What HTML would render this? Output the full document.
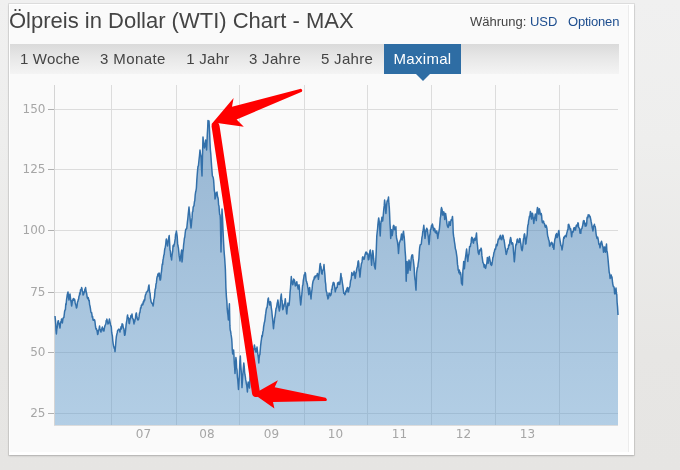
<!DOCTYPE html>
<html lang="de">
<head>
<meta charset="utf-8">
<title>Ölpreis in Dollar (WTI) Chart - MAX</title>
<style>
html,body{margin:0;padding:0;}
body{width:680px;height:470px;overflow:hidden;position:relative;background:linear-gradient(to bottom,#f0f0f0 0%,#eeeeed 30%,#e7e6e4 75%,#e6e5e3 100%);font-family:"Liberation Sans",sans-serif;}
.card{position:absolute;left:9px;top:4px;width:625px;height:451px;background:#fff;box-shadow:0 0 0 1px rgba(0,0,0,.07),0 1px 2px rgba(0,0,0,.18);}
.inner{position:absolute;left:1px;top:1px;width:619px;height:447px;background:#fafafa;border-right:1px solid #ececec;box-sizing:border-box;}
h1{position:absolute;left:9px;top:8px;margin:0;font-size:22px;line-height:25px;font-weight:normal;color:#444;white-space:nowrap;}
.opts{position:absolute;left:470px;top:14px;font-size:13px;line-height:15px;color:#444;white-space:nowrap;}
.opts a{color:#1e4e8f;text-decoration:none;}
.opts .o2{position:absolute;left:98px;top:0;letter-spacing:-0.2px;}
.tabs{position:absolute;left:10px;top:44px;width:609px;height:30px;background:linear-gradient(to bottom,#dadada 0%,#e6e6e6 40%,#f4f4f4 100%);}
.tabs span{position:absolute;top:0;height:30px;line-height:29px;font-size:15px;color:#444;white-space:nowrap;}
.tabs .act{left:374px;width:77px;background:#2e6da4;color:#fff;text-align:center;letter-spacing:0.3px;}
.tabs .act:after{content:"";position:absolute;left:31.5px;top:30px;border-left:7px solid transparent;border-right:7px solid transparent;border-top:7px solid #2e6da4;}
svg{position:absolute;left:0;top:0;}
svg text{font-family:"DejaVu Sans",sans-serif;font-size:12px;fill:#a6a6a6;}
</style>
</head>
<body>
<div class="card"><div class="inner"></div></div>
<h1>Ölpreis in Dollar (WTI) Chart - MAX</h1>
<div class="opts">Währung: <a>USD</a><a class="o2">Optionen</a></div>
<div class="tabs">
<span style="left:10px;letter-spacing:0.16px">1 Woche</span>
<span style="left:90px;letter-spacing:0.4px">3 Monate</span>
<span style="left:176.3px;letter-spacing:0.25px">1 Jahr</span>
<span style="left:239px;letter-spacing:0.3px">3 Jahre</span>
<span style="left:311px;letter-spacing:0.3px">5 Jahre</span>
<span class="act">Maximal</span>
</div>
<svg width="680" height="470" viewBox="0 0 680 470">
<defs>
<linearGradient id="fg" x1="0" y1="120" x2="0" y2="425" gradientUnits="userSpaceOnUse">
<stop offset="0" stop-color="#3572ab" stop-opacity="0.50"/>
<stop offset="1" stop-color="#5b98cb" stop-opacity="0.45"/>
</linearGradient>
</defs>
<g shape-rendering="crispEdges">
<rect x="54" y="85" width="1" height="340" fill="#d4d4d4"/>
<rect x="111" y="85" width="1" height="340" fill="#dcdcdc"/>
<rect x="176" y="85" width="1" height="340" fill="#dcdcdc"/>
<rect x="239" y="85" width="1" height="340" fill="#dcdcdc"/>
<rect x="304" y="85" width="1" height="340" fill="#dcdcdc"/>
<rect x="367" y="85" width="1" height="340" fill="#dcdcdc"/>
<rect x="431" y="85" width="1" height="340" fill="#dcdcdc"/>
<rect x="495" y="85" width="1" height="340" fill="#dcdcdc"/>
<rect x="559" y="85" width="1" height="340" fill="#dcdcdc"/>
<rect x="55" y="109" width="563" height="1" fill="#dcdcdc"/>
<rect x="48" y="109" width="6" height="1" fill="#b0b0b0"/>
<rect x="55" y="169" width="563" height="1" fill="#dcdcdc"/>
<rect x="48" y="169" width="6" height="1" fill="#b0b0b0"/>
<rect x="55" y="230" width="563" height="1" fill="#dcdcdc"/>
<rect x="48" y="230" width="6" height="1" fill="#b0b0b0"/>
<rect x="55" y="292" width="563" height="1" fill="#dcdcdc"/>
<rect x="48" y="292" width="6" height="1" fill="#b0b0b0"/>
<rect x="55" y="352" width="563" height="1" fill="#dcdcdc"/>
<rect x="48" y="352" width="6" height="1" fill="#b0b0b0"/>
<rect x="55" y="413" width="563" height="1" fill="#dcdcdc"/>
<rect x="48" y="413" width="6" height="1" fill="#b0b0b0"/>
<rect x="54" y="425" width="564" height="1" fill="#dcdcdc"/>
</g>
<path d="M55.0,316.0 L55.4,319.8 L55.7,323.7 L56.0,330.1 L56.4,334.0 L56.8,329.1 L57.2,327.6 L57.6,323.7 L58.0,321.0 L58.4,320.7 L58.8,323.8 L59.2,323.4 L59.6,326.3 L60.0,328.0 L60.4,324.1 L60.8,321.9 L61.2,321.0 L61.6,319.0 L62.0,322.2 L62.4,323.0 L62.8,319.7 L63.1,318.2 L63.5,317.9 L63.9,317.3 L64.3,314.0 L64.6,311.5 L65.0,310.0 L65.4,309.6 L65.8,303.8 L66.1,304.6 L66.5,300.2 L66.9,297.4 L67.2,295.0 L67.6,293.5 L68.0,292.0 L68.5,297.2 L69.0,300.0 L69.5,295.8 L70.0,294.0 L70.4,297.3 L70.8,300.5 L71.2,302.5 L71.6,306.0 L71.9,304.7 L72.3,301.3 L72.7,299.8 L73.0,300.0 L73.3,298.6 L73.7,300.2 L74.1,299.0 L74.4,299.0 L74.8,300.1 L75.2,302.9 L75.6,304.2 L76.0,305.4 L76.4,308.0 L76.8,307.4 L77.1,305.3 L77.5,301.9 L77.9,301.4 L78.3,299.5 L78.6,299.1 L79.0,296.0 L79.4,295.7 L79.7,292.8 L80.1,294.2 L80.5,289.7 L80.9,289.7 L81.2,289.8 L81.6,287.6 L81.9,288.1 L82.3,291.3 L82.7,291.4 L83.0,295.0 L83.4,294.6 L83.7,293.9 L84.1,292.1 L84.5,292.2 L84.9,289.0 L85.2,289.4 L85.6,287.6 L85.9,290.1 L86.3,292.1 L86.7,293.7 L87.0,296.0 L87.3,297.8 L87.7,298.7 L88.1,297.4 L88.4,298.0 L88.8,300.6 L89.2,300.3 L89.6,304.8 L90.0,306.0 L90.4,308.3 L90.8,311.4 L91.1,312.5 L91.5,312.2 L91.9,314.3 L92.2,317.1 L92.6,316.4 L93.0,320.0 L93.4,320.3 L93.8,319.5 L94.2,319.7 L94.6,319.9 L95.0,322.0 L95.5,326.5 L96.0,329.0 L96.4,328.6 L96.8,330.0 L97.2,331.6 L97.6,334.4 L98.0,334.0 L98.4,330.4 L98.8,329.8 L99.2,328.2 L99.6,326.0 L99.9,329.0 L100.3,330.2 L100.7,331.9 L101.0,332.0 L101.3,329.9 L101.7,329.2 L102.1,327.7 L102.4,327.0 L102.8,329.5 L103.2,330.7 L103.6,328.7 L104.0,331.0 L104.4,328.2 L104.7,326.8 L105.1,325.3 L105.5,324.7 L105.9,323.5 L106.2,320.7 L106.6,320.0 L106.9,319.1 L107.3,321.7 L107.7,322.5 L108.0,324.0 L108.3,323.0 L108.7,323.2 L109.1,321.0 L109.4,319.0 L109.8,320.8 L110.2,322.9 L110.6,324.9 L111.0,326.0 L111.3,326.8 L111.7,332.5 L112.1,334.6 L112.4,336.0 L112.8,340.8 L113.2,343.8 L113.6,346.0 L113.9,347.0 L114.3,348.4 L114.7,348.7 L115.0,351.6 L115.5,346.3 L116.0,340.0 L116.4,336.3 L116.8,334.4 L117.2,332.9 L117.6,330.7 L118.0,330.0 L118.4,329.8 L118.8,329.1 L119.2,329.3 L119.6,330.3 L120.0,332.0 L120.3,329.3 L120.7,329.2 L121.0,326.8 L121.4,328.9 L121.7,326.7 L122.1,323.8 L122.4,324.0 L122.8,324.6 L123.1,326.6 L123.5,328.2 L123.9,328.9 L124.3,333.2 L124.6,335.3 L125.0,335.0 L125.4,332.0 L125.7,329.2 L126.1,324.9 L126.5,322.1 L126.9,320.1 L127.2,317.0 L127.6,315.0 L127.9,318.2 L128.3,317.7 L128.7,319.2 L129.0,323.0 L129.4,323.6 L129.8,320.9 L130.1,318.3 L130.5,318.7 L130.9,315.6 L131.2,316.4 L131.6,316.9 L132.0,314.0 L132.4,317.4 L132.8,318.7 L133.2,319.1 L133.6,321.5 L134.0,324.0 L134.3,321.2 L134.7,321.9 L135.0,319.4 L135.4,318.8 L135.7,315.5 L136.1,313.5 L136.4,313.0 L136.8,315.9 L137.2,318.3 L137.6,319.6 L138.0,320.0 L138.4,319.7 L138.8,318.2 L139.1,316.4 L139.5,313.0 L139.9,312.6 L140.2,310.5 L140.6,307.7 L141.0,308.0 L141.4,305.2 L141.8,305.2 L142.1,304.1 L142.5,304.7 L142.9,304.7 L143.2,301.8 L143.6,302.7 L144.0,300.0 L144.4,300.9 L144.8,299.7 L145.1,296.5 L145.5,294.9 L145.9,294.0 L146.2,292.8 L146.6,291.9 L147.0,292.0 L147.4,291.1 L147.8,290.7 L148.2,289.1 L148.6,286.3 L149.0,285.0 L149.3,288.8 L149.7,292.6 L150.1,293.2 L150.4,298.0 L150.8,299.8 L151.1,301.8 L151.5,302.5 L151.9,303.5 L152.3,303.6 L152.6,303.6 L153.0,306.0 L153.4,304.3 L153.8,299.9 L154.1,298.9 L154.5,296.8 L154.9,291.9 L155.2,289.1 L155.6,288.4 L156.0,284.0 L156.4,282.9 L156.8,278.7 L157.2,276.6 L157.6,276.0 L157.9,273.9 L158.3,276.0 L158.7,274.9 L159.0,273.0 L159.3,273.4 L159.7,277.7 L160.1,280.1 L160.4,280.0 L160.8,277.7 L161.1,273.7 L161.5,271.6 L161.9,267.2 L162.3,263.9 L162.6,264.6 L163.0,260.0 L163.4,258.2 L163.8,255.3 L164.2,254.4 L164.6,250.1 L165.0,248.0 L165.3,247.2 L165.7,244.7 L166.1,240.2 L166.4,239.0 L166.8,240.4 L167.2,242.9 L167.6,246.0 L168.0,242.4 L168.4,241.1 L168.8,237.3 L169.2,235.6 L169.6,242.5 L170.0,250.0 L170.4,251.1 L170.8,256.6 L171.2,256.9 L171.6,260.0 L171.9,256.3 L172.3,253.3 L172.7,251.0 L173.0,246.0 L173.3,245.2 L173.7,246.6 L174.1,244.5 L174.4,244.0 L174.8,241.5 L175.2,238.9 L175.6,234.4 L176.0,233.4 L176.4,231.0 L176.8,233.5 L177.2,236.6 L177.6,243.4 L178.0,246.0 L178.4,247.8 L178.8,251.9 L179.2,255.9 L179.6,258.2 L180.0,261.0 L180.4,257.6 L180.8,255.6 L181.2,253.0 L181.6,250.0 L182.0,262.0 L182.4,259.1 L182.8,252.5 L183.2,250.2 L183.6,245.0 L184.0,242.0 L184.4,238.2 L184.8,237.0 L185.2,233.0 L185.6,230.0 L185.9,229.2 L186.3,229.0 L186.7,228.6 L187.0,226.0 L187.4,222.0 L187.8,218.8 L188.2,214.6 L188.6,210.8 L189.0,207.0 L189.4,211.9 L189.8,215.2 L190.2,219.7 L190.6,223.7 L191.0,228.0 L191.3,225.7 L191.7,220.8 L192.1,217.4 L192.4,212.0 L192.8,211.7 L193.2,207.1 L193.6,206.2 L194.0,205.7 L194.4,202.0 L194.8,200.5 L195.2,195.0 L195.6,192.2 L196.0,190.6 L196.4,188.0 L196.8,180.4 L197.2,175.0 L197.6,170.0 L198.0,166.4 L198.4,166.0 L199.0,160.0 L199.5,155.6 L200.0,150.0 L200.5,154.1 L201.0,156.0 L201.5,167.5 L202.0,176.0 L202.5,155.2 L203.0,137.0 L203.3,140.6 L203.7,143.1 L204.1,143.9 L204.4,148.0 L204.8,146.8 L205.2,144.4 L205.6,140.0 L206.1,143.9 L206.6,150.0 L206.9,144.3 L207.3,134.8 L207.7,127.8 L208.0,120.4 L208.5,122.6 L209.0,121.0 L209.6,132.0 L210.0,142.3 L210.4,150.0 L210.8,154.0 L211.2,160.4 L211.6,166.0 L212.0,171.1 L212.4,176.0 L212.8,176.7 L213.2,177.5 L213.6,180.0 L213.9,184.1 L214.3,190.3 L214.7,192.4 L215.0,199.0 L215.4,197.8 L215.8,196.0 L216.2,193.0 L216.6,192.8 L217.0,192.0 L217.4,195.3 L217.8,197.6 L218.2,198.7 L218.6,205.0 L219.0,206.0 L219.3,210.6 L219.7,214.8 L220.1,215.0 L220.4,220.0 L221.0,252.0 L221.5,229.6 L222.0,209.0 L222.5,217.8 L223.0,230.0 L223.5,241.1 L224.0,250.0 L224.3,254.1 L224.7,258.6 L225.1,264.7 L225.4,270.0 L225.9,287.6 L226.4,296.6 L226.9,302.4 L227.2,308.7 L227.6,312.6 L228.0,315.4 L228.4,320.0 L228.9,310.6 L229.4,303.8 L229.9,325.9 L230.2,330.0 L230.6,331.2 L231.0,334.2 L231.3,336.0 L231.7,338.9 L232.0,343.3 L232.3,350.2 L232.7,354.0 L233.1,351.7 L233.6,350.0 L233.9,354.3 L234.3,363.4 L234.7,368.1 L235.0,373.5 L235.4,366.7 L235.9,357.6 L236.3,360.6 L236.6,368.0 L237.0,369.6 L237.4,377.1 L237.8,380.1 L238.1,384.2 L238.5,389.4 L238.9,382.9 L239.2,377.7 L239.6,368.5 L239.9,361.3 L240.3,356.0 L240.7,364.0 L241.2,370.8 L241.6,378.2 L242.0,387.6 L242.4,381.4 L242.7,376.1 L243.1,371.7 L243.4,367.2 L243.8,363.0 L244.2,366.3 L244.6,372.0 L245.0,375.0 L245.3,376.6 L245.7,379.9 L246.0,381.1 L246.4,384.1 L246.7,385.3 L247.1,388.6 L247.4,392.0 L247.8,385.2 L248.2,382.0 L248.6,384.9 L249.1,386.2 L249.5,388.0 L250.0,377.8 L250.5,370.0 L250.9,367.4 L251.2,366.7 L251.6,361.0 L252.0,360.0 L252.3,359.1 L252.7,355.5 L253.0,353.6 L253.4,352.7 L253.7,348.9 L254.1,347.2 L254.4,345.0 L254.8,347.1 L255.1,349.6 L255.5,348.6 L255.8,351.9 L256.2,352.0 L256.6,350.3 L257.0,347.0 L257.4,350.7 L257.7,353.0 L258.1,356.0 L258.4,358.1 L258.8,363.0 L259.1,358.5 L259.5,355.2 L259.9,354.6 L260.2,350.6 L260.6,345.8 L261.1,341.6 L261.5,339.0 L261.9,335.6 L262.2,336.7 L262.5,335.0 L262.9,331.8 L263.3,330.4 L263.6,326.9 L264.0,324.6 L264.3,322.8 L264.7,321.5 L265.1,318.6 L265.5,314.8 L265.8,313.2 L266.2,309.8 L266.6,308.0 L267.0,307.8 L267.3,305.8 L267.7,302.2 L268.0,299.0 L268.4,298.0 L268.8,302.1 L269.2,301.9 L269.6,305.0 L270.0,302.8 L270.3,301.6 L270.7,302.1 L271.1,305.9 L271.4,308.6 L271.8,311.0 L272.2,315.5 L272.6,318.8 L273.1,324.4 L273.5,328.8 L273.9,324.0 L274.3,322.0 L274.6,318.4 L275.0,316.6 L275.4,314.0 L275.8,310.3 L276.1,308.2 L276.5,308.0 L276.9,305.3 L277.2,303.0 L277.5,302.3 L277.9,300.0 L278.3,302.9 L278.6,306.5 L279.0,308.8 L279.4,311.0 L279.8,308.4 L280.2,305.6 L280.5,300.4 L280.9,296.7 L281.3,294.0 L281.7,299.8 L282.1,300.5 L282.4,306.6 L282.8,309.7 L283.2,308.8 L283.6,305.1 L283.9,306.7 L284.3,304.0 L284.8,302.8 L285.3,298.7 L285.7,303.0 L286.1,307.2 L286.4,311.4 L286.8,314.0 L287.2,309.0 L287.5,306.8 L287.9,303.0 L288.3,303.7 L288.7,305.6 L289.1,305.0 L289.6,299.7 L290.1,292.0 L290.5,288.1 L290.9,282.1 L291.3,276.6 L291.7,280.8 L292.2,282.7 L292.6,284.7 L293.0,284.2 L293.4,281.1 L293.7,279.1 L294.1,279.6 L294.5,280.3 L294.9,283.3 L295.3,286.0 L295.7,283.4 L296.1,285.2 L296.4,283.1 L296.8,281.8 L297.1,284.1 L297.5,285.9 L297.9,287.9 L298.2,289.0 L298.6,286.8 L299.0,284.7 L299.4,287.9 L299.9,296.0 L300.3,300.9 L300.7,305.0 L301.1,301.3 L301.4,297.6 L301.8,294.4 L302.2,290.0 L302.6,285.5 L302.9,285.1 L303.3,280.4 L303.7,278.5 L304.1,275.4 L304.4,274.6 L304.8,274.8 L305.1,272.4 L305.5,273.6 L305.9,277.9 L306.2,281.0 L306.6,281.5 L307.0,283.3 L307.4,284.7 L307.7,286.9 L308.1,288.8 L308.5,292.4 L308.8,294.7 L309.2,292.1 L309.6,287.4 L310.0,290.7 L310.3,293.7 L310.6,294.5 L311.0,299.0 L311.4,294.0 L311.8,290.8 L312.1,289.0 L312.5,284.4 L313.0,281.5 L313.5,280.0 L313.9,279.8 L314.3,277.1 L314.7,278.5 L315.1,276.1 L315.4,276.2 L315.8,277.0 L316.2,275.6 L316.6,275.6 L317.0,274.8 L317.4,273.4 L317.9,275.6 L318.4,279.3 L318.8,276.2 L319.2,272.8 L319.5,269.7 L319.9,265.2 L320.3,263.5 L320.7,267.1 L321.0,266.6 L321.4,271.7 L321.7,273.6 L322.1,274.1 L322.5,270.4 L322.9,270.1 L323.2,269.6 L323.6,268.3 L324.0,264.6 L324.4,270.0 L324.9,275.0 L325.3,281.5 L325.7,283.8 L326.1,290.1 L326.5,291.8 L326.9,292.5 L327.2,295.7 L327.5,295.8 L327.9,299.0 L328.3,297.6 L328.6,297.8 L329.0,293.3 L329.4,293.2 L329.8,294.8 L330.1,294.0 L330.5,295.8 L330.9,294.7 L331.3,293.3 L331.6,289.3 L332.0,289.6 L332.4,285.9 L332.7,285.3 L333.1,282.9 L333.4,282.3 L333.8,283.5 L334.1,283.0 L334.5,285.7 L334.9,288.1 L335.3,291.8 L335.7,289.3 L336.1,289.0 L336.4,287.8 L336.8,287.4 L337.2,287.4 L337.6,282.9 L338.1,284.5 L338.5,282.2 L338.9,284.2 L339.3,282.2 L339.7,284.4 L340.1,282.4 L340.5,277.9 L340.9,273.4 L341.3,277.3 L341.6,277.4 L342.0,280.1 L342.4,283.0 L342.9,286.2 L343.4,290.3 L343.8,293.3 L344.1,292.8 L344.5,293.1 L344.9,294.7 L345.2,293.7 L345.6,292.4 L345.9,290.8 L346.3,291.8 L346.7,288.8 L347.0,290.1 L347.4,287.4 L347.8,288.1 L348.1,292.0 L348.5,291.8 L348.9,289.4 L349.2,288.0 L349.6,287.4 L350.0,285.9 L350.4,282.1 L350.7,280.1 L351.1,279.7 L351.4,276.7 L351.8,272.6 L352.1,274.2 L352.5,273.8 L352.9,275.3 L353.2,274.1 L353.6,274.3 L354.1,271.2 L354.6,275.0 L355.1,278.5 L355.5,277.1 L355.9,272.4 L356.2,272.8 L356.6,269.7 L357.0,267.8 L357.3,267.1 L357.7,265.0 L358.0,261.8 L358.4,260.9 L358.8,263.2 L359.1,270.6 L359.5,271.6 L359.9,277.1 L360.3,273.6 L360.6,269.6 L361.0,266.8 L361.4,263.6 L361.8,262.9 L362.1,261.4 L362.5,257.2 L362.9,256.8 L363.2,258.9 L363.6,258.1 L364.0,259.4 L364.4,258.4 L364.7,256.6 L365.1,254.5 L365.5,253.2 L365.8,252.2 L366.2,252.1 L366.6,254.1 L367.0,253.0 L367.4,253.5 L367.8,253.9 L368.1,258.0 L368.4,259.8 L368.8,259.4 L369.2,256.8 L369.6,253.3 L369.9,251.1 L370.3,249.9 L370.7,253.5 L371.2,259.6 L371.6,265.3 L372.0,258.8 L372.4,254.5 L372.8,250.6 L373.2,253.6 L373.6,258.7 L374.0,262.4 L374.4,266.1 L374.9,267.7 L375.3,269.0 L375.8,260.2 L376.2,252.1 L376.8,235.9 L377.2,232.0 L377.6,228.8 L377.9,224.6 L378.3,220.9 L378.7,217.9 L379.2,221.4 L379.7,228.2 L380.2,236.0 L380.8,224.0 L381.2,220.9 L381.5,221.2 L381.9,217.2 L382.3,217.7 L382.7,221.0 L383.1,217.0 L383.4,213.6 L383.8,209.1 L384.2,205.9 L384.6,200.0 L385.0,203.4 L385.5,208.1 L385.9,213.5 L386.3,208.6 L386.6,205.3 L387.0,201.8 L387.4,200.4 L387.8,201.1 L388.1,199.5 L388.5,197.0 L388.9,203.7 L389.3,207.6 L389.6,213.9 L390.0,223.8 L390.4,229.4 L390.7,238.5 L391.1,234.9 L391.5,229.7 L391.9,234.2 L392.2,235.6 L392.6,232.9 L392.9,230.8 L393.3,226.0 L393.7,225.3 L394.1,226.0 L394.4,229.1 L394.8,229.8 L395.1,229.7 L395.5,229.6 L395.9,226.8 L396.2,234.4 L396.6,238.5 L397.0,239.8 L397.4,241.5 L397.7,243.9 L398.1,247.4 L398.5,253.4 L398.9,248.0 L399.4,242.4 L399.9,241.9 L400.3,240.0 L400.7,239.7 L401.1,236.9 L401.5,234.1 L402.1,240.0 L402.5,238.4 L402.8,236.6 L403.1,233.2 L403.5,231.2 L403.9,235.1 L404.2,236.9 L404.6,242.4 L405.1,250.8 L405.6,257.0 L406.2,281.3 L406.6,270.4 L407.1,261.5 L407.5,268.9 L407.9,273.2 L408.3,269.4 L408.6,263.7 L409.0,260.0 L409.4,262.0 L409.7,265.9 L410.1,270.3 L410.5,266.9 L410.8,263.2 L411.2,258.5 L411.6,256.1 L411.9,255.1 L412.2,255.9 L412.6,254.9 L413.0,258.4 L413.4,260.8 L413.8,264.4 L414.2,268.2 L414.5,274.6 L414.9,279.1 L415.3,280.9 L415.6,285.7 L416.0,290.1 L416.6,273.2 L417.0,270.2 L417.4,267.4 L417.8,267.2 L418.1,264.0 L418.5,261.5 L418.9,258.3 L419.3,252.0 L419.7,247.4 L420.1,245.4 L420.5,244.4 L420.9,244.4 L421.3,244.0 L421.6,240.8 L422.0,237.1 L422.4,235.6 L422.8,231.2 L423.1,230.4 L423.4,228.5 L423.8,225.3 L424.2,229.4 L424.6,233.2 L425.0,238.5 L425.5,234.7 L426.0,229.7 L426.4,231.1 L426.7,228.2 L427.1,229.0 L427.5,229.8 L427.9,234.1 L428.3,236.9 L428.6,240.7 L429.0,244.4 L429.4,241.4 L429.7,235.9 L430.0,234.5 L430.4,229.7 L430.8,229.5 L431.2,227.5 L431.6,225.2 L432.0,227.0 L432.4,224.1 L432.9,226.2 L433.4,229.7 L433.8,230.7 L434.1,228.2 L434.5,229.0 L434.9,229.1 L435.2,232.4 L435.6,232.6 L436.0,231.3 L436.4,233.3 L436.8,231.0 L437.3,234.7 L437.8,238.5 L438.2,235.1 L438.6,233.0 L438.9,231.6 L439.3,229.7 L439.8,224.4 L440.3,217.9 L440.7,216.2 L441.1,209.7 L441.5,207.6 L441.9,209.0 L442.2,210.2 L442.5,215.0 L442.9,215.0 L443.3,212.9 L443.7,211.8 L444.1,212.8 L444.7,219.4 L445.1,214.8 L445.6,213.5 L446.1,216.8 L446.6,220.9 L447.0,224.1 L447.4,225.7 L447.7,226.7 L448.1,227.5 L448.6,226.4 L449.1,221.6 L449.5,224.5 L449.9,223.4 L450.3,225.3 L450.8,221.2 L451.3,219.4 L451.7,220.1 L452.1,218.4 L452.5,216.5 L452.9,222.8 L453.2,232.6 L453.6,236.2 L454.0,238.1 L454.4,241.5 L454.9,244.7 L455.4,248.8 L455.8,249.9 L456.1,251.1 L456.5,254.1 L457.0,257.4 L457.5,264.4 L457.9,266.5 L458.2,270.3 L458.6,270.1 L458.9,272.8 L459.3,270.0 L459.7,271.8 L460.1,274.5 L460.5,272.6 L460.9,274.7 L461.5,283.5 L461.9,283.7 L462.4,285.0 L462.9,270.3 L463.3,267.1 L463.7,261.5 L464.0,266.4 L464.4,268.8 L464.8,264.6 L465.2,259.2 L465.6,257.0 L466.1,252.9 L466.6,249.0 L467.0,252.7 L467.4,258.9 L467.8,261.5 L468.2,257.4 L468.6,255.1 L468.9,254.2 L469.3,249.7 L469.6,246.4 L470.0,246.4 L470.4,246.5 L470.7,243.8 L471.1,243.2 L471.4,238.9 L471.8,237.3 L472.1,237.5 L472.6,238.4 L473.1,242.6 L473.5,243.1 L473.9,239.5 L474.2,240.2 L474.6,238.2 L475.1,240.4 L475.6,239.5 L476.1,235.7 L476.5,233.1 L477.1,242.6 L477.5,245.4 L477.9,250.0 L478.3,253.2 L478.6,253.4 L479.0,254.4 L479.4,251.3 L479.7,250.0 L480.1,250.8 L480.4,249.3 L480.8,249.1 L481.1,248.1 L481.5,250.0 L481.9,255.4 L482.4,258.8 L482.9,262.6 L483.4,263.2 L483.8,264.8 L484.1,267.1 L484.5,264.7 L484.9,267.6 L485.2,267.0 L485.6,268.4 L486.0,266.5 L486.3,264.7 L486.7,264.0 L487.0,261.6 L487.4,257.4 L487.8,259.9 L488.2,263.2 L488.6,260.1 L488.9,258.5 L489.3,256.6 L489.8,259.2 L490.3,261.8 L490.7,264.6 L491.1,263.0 L491.5,265.4 L491.9,264.5 L492.2,262.3 L492.5,260.6 L492.9,257.4 L493.3,257.0 L493.6,254.9 L494.0,252.3 L494.4,251.5 L494.8,249.7 L495.1,248.8 L495.5,249.3 L495.9,247.1 L496.3,244.8 L496.6,244.4 L497.0,245.8 L497.4,244.1 L497.8,242.0 L498.1,240.2 L498.4,239.0 L498.8,239.7 L499.2,238.8 L499.6,236.8 L499.9,238.2 L500.3,235.3 L500.7,237.9 L501.1,239.4 L501.4,237.7 L501.8,239.7 L502.2,236.7 L502.5,235.2 L502.9,235.3 L503.3,236.8 L503.6,239.0 L504.0,239.7 L504.5,243.2 L505.0,247.1 L505.4,248.5 L505.8,251.7 L506.2,254.4 L506.6,253.4 L506.9,252.1 L507.2,250.9 L507.6,248.5 L508.0,249.1 L508.4,247.7 L508.7,244.9 L509.1,245.6 L509.5,244.9 L509.9,240.8 L510.2,239.8 L510.6,237.5 L511.0,239.2 L511.4,242.8 L511.8,244.1 L512.3,242.7 L512.8,243.5 L513.2,247.1 L513.5,251.7 L513.9,255.9 L514.3,261.8 L514.6,259.2 L515.0,254.0 L515.4,249.0 L515.7,245.6 L516.1,243.9 L516.5,244.8 L516.8,241.7 L517.2,239.3 L517.6,239.0 L518.0,241.4 L518.3,242.0 L518.7,242.6 L519.2,242.4 L519.7,238.5 L520.1,238.9 L520.5,242.1 L520.9,244.1 L521.3,247.5 L521.7,249.8 L522.1,250.7 L522.6,248.2 L523.1,242.6 L523.5,238.7 L523.9,237.4 L524.2,234.6 L524.6,233.8 L525.1,237.8 L525.6,244.1 L526.0,243.5 L526.4,239.5 L526.8,236.8 L527.2,234.5 L527.5,228.4 L527.9,225.0 L528.3,224.4 L528.6,220.9 L529.0,219.1 L529.4,216.3 L529.7,216.4 L530.0,215.1 L530.4,211.5 L530.8,212.5 L531.1,216.9 L531.5,219.1 L532.0,216.6 L532.4,213.2 L532.8,214.7 L533.1,217.9 L533.4,219.6 L533.8,223.5 L534.2,220.0 L534.5,217.8 L534.9,216.8 L535.3,214.0 L535.8,217.9 L536.3,220.6 L536.7,215.1 L537.1,209.9 L537.5,207.4 L538.0,210.0 L538.5,214.0 L538.9,212.1 L539.3,208.8 L539.8,210.6 L540.3,214.7 L540.8,213.4 L541.2,213.5 L541.6,215.4 L542.0,220.6 L542.4,222.5 L542.8,222.8 L543.2,221.1 L543.6,221.4 L544.0,223.0 L544.4,223.7 L544.8,225.3 L545.1,226.7 L545.5,227.2 L546.0,225.3 L546.5,226.5 L547.0,228.9 L547.4,233.8 L547.8,236.5 L548.2,237.4 L548.6,239.7 L549.0,240.5 L549.3,242.1 L549.6,246.1 L550.0,246.0 L550.4,244.2 L550.8,244.0 L551.2,242.6 L551.6,242.3 L551.9,242.7 L552.2,244.7 L552.6,243.5 L553.0,247.3 L553.5,246.8 L553.9,249.3 L554.4,243.0 L554.9,239.0 L555.3,238.4 L555.8,234.9 L556.2,234.6 L556.6,233.5 L557.0,237.6 L557.4,236.8 L557.8,234.9 L558.1,234.8 L558.5,231.6 L558.9,230.4 L559.4,236.5 L559.9,239.7 L560.4,242.5 L560.9,245.6 L561.3,245.8 L561.6,246.7 L562.0,250.0 L562.4,247.6 L562.7,245.4 L563.0,243.8 L563.4,239.7 L563.8,237.2 L564.2,238.3 L564.6,236.4 L565.0,236.0 L565.4,236.3 L565.8,235.2 L566.2,236.8 L566.7,233.4 L567.2,231.6 L567.6,229.9 L568.0,229.6 L568.3,224.6 L568.7,224.3 L569.1,225.4 L569.5,226.5 L569.9,228.4 L570.2,229.7 L570.6,228.7 L571.1,231.6 L571.6,236.8 L572.1,232.8 L572.6,231.6 L573.0,232.1 L573.4,230.9 L573.8,227.9 L574.2,228.5 L574.6,227.6 L575.0,230.0 L575.5,229.9 L576.0,226.5 L576.4,225.3 L576.8,226.6 L577.1,224.7 L577.5,224.8 L577.9,222.8 L578.3,223.2 L578.6,227.3 L579.0,227.9 L579.4,228.1 L579.7,230.1 L580.0,233.1 L580.4,233.1 L580.8,233.3 L581.1,229.7 L581.5,228.7 L581.9,228.7 L582.3,226.7 L582.7,225.5 L583.0,223.4 L583.4,220.8 L583.8,220.6 L584.2,220.9 L584.5,223.9 L584.9,224.3 L585.2,226.2 L585.6,223.3 L585.9,225.6 L586.3,225.7 L586.7,223.7 L587.0,218.1 L587.4,216.9 L587.8,217.8 L588.2,214.7 L588.5,216.1 L588.9,215.6 L589.3,215.0 L589.6,216.5 L590.0,216.3 L590.4,217.8 L590.7,219.1 L591.1,221.4 L591.4,222.8 L591.8,225.0 L592.2,227.6 L592.5,228.7 L592.9,230.9 L593.3,229.0 L593.6,225.8 L594.0,226.4 L594.4,224.3 L594.8,226.0 L595.2,226.7 L595.6,229.4 L596.1,234.1 L596.6,236.8 L597.0,238.4 L597.4,237.7 L597.7,237.2 L598.1,239.0 L598.5,241.4 L598.8,244.1 L599.2,243.8 L599.6,245.2 L600.0,247.8 L600.4,245.9 L600.8,242.9 L601.1,242.6 L601.5,241.2 L602.0,243.4 L602.5,245.6 L603.0,247.2 L603.5,252.2 L603.9,251.0 L604.3,247.2 L604.7,247.1 L605.0,250.5 L605.4,252.2 L605.8,250.6 L606.1,246.8 L606.5,244.1 L606.9,251.5 L607.2,251.6 L607.6,255.0 L608.0,258.9 L608.3,262.4 L608.7,266.8 L609.2,272.2 L609.7,274.1 L610.1,278.5 L610.5,275.9 L610.8,277.5 L611.2,274.9 L611.6,277.8 L612.0,277.0 L612.6,283.0 L613.0,285.1 L613.4,286.6 L613.8,286.6 L614.2,287.9 L614.6,293.4 L615.0,294.0 L615.5,291.0 L616.0,288.1 L616.4,293.1 L616.8,294.7 L617.1,302.2 L617.5,306.5 L618.0,315.0 L618,425 L55,425 Z" fill="url(#fg)" stroke="none"/>
<path d="M55.0,316.0 L55.4,319.8 L55.7,323.7 L56.0,330.1 L56.4,334.0 L56.8,329.1 L57.2,327.6 L57.6,323.7 L58.0,321.0 L58.4,320.7 L58.8,323.8 L59.2,323.4 L59.6,326.3 L60.0,328.0 L60.4,324.1 L60.8,321.9 L61.2,321.0 L61.6,319.0 L62.0,322.2 L62.4,323.0 L62.8,319.7 L63.1,318.2 L63.5,317.9 L63.9,317.3 L64.3,314.0 L64.6,311.5 L65.0,310.0 L65.4,309.6 L65.8,303.8 L66.1,304.6 L66.5,300.2 L66.9,297.4 L67.2,295.0 L67.6,293.5 L68.0,292.0 L68.5,297.2 L69.0,300.0 L69.5,295.8 L70.0,294.0 L70.4,297.3 L70.8,300.5 L71.2,302.5 L71.6,306.0 L71.9,304.7 L72.3,301.3 L72.7,299.8 L73.0,300.0 L73.3,298.6 L73.7,300.2 L74.1,299.0 L74.4,299.0 L74.8,300.1 L75.2,302.9 L75.6,304.2 L76.0,305.4 L76.4,308.0 L76.8,307.4 L77.1,305.3 L77.5,301.9 L77.9,301.4 L78.3,299.5 L78.6,299.1 L79.0,296.0 L79.4,295.7 L79.7,292.8 L80.1,294.2 L80.5,289.7 L80.9,289.7 L81.2,289.8 L81.6,287.6 L81.9,288.1 L82.3,291.3 L82.7,291.4 L83.0,295.0 L83.4,294.6 L83.7,293.9 L84.1,292.1 L84.5,292.2 L84.9,289.0 L85.2,289.4 L85.6,287.6 L85.9,290.1 L86.3,292.1 L86.7,293.7 L87.0,296.0 L87.3,297.8 L87.7,298.7 L88.1,297.4 L88.4,298.0 L88.8,300.6 L89.2,300.3 L89.6,304.8 L90.0,306.0 L90.4,308.3 L90.8,311.4 L91.1,312.5 L91.5,312.2 L91.9,314.3 L92.2,317.1 L92.6,316.4 L93.0,320.0 L93.4,320.3 L93.8,319.5 L94.2,319.7 L94.6,319.9 L95.0,322.0 L95.5,326.5 L96.0,329.0 L96.4,328.6 L96.8,330.0 L97.2,331.6 L97.6,334.4 L98.0,334.0 L98.4,330.4 L98.8,329.8 L99.2,328.2 L99.6,326.0 L99.9,329.0 L100.3,330.2 L100.7,331.9 L101.0,332.0 L101.3,329.9 L101.7,329.2 L102.1,327.7 L102.4,327.0 L102.8,329.5 L103.2,330.7 L103.6,328.7 L104.0,331.0 L104.4,328.2 L104.7,326.8 L105.1,325.3 L105.5,324.7 L105.9,323.5 L106.2,320.7 L106.6,320.0 L106.9,319.1 L107.3,321.7 L107.7,322.5 L108.0,324.0 L108.3,323.0 L108.7,323.2 L109.1,321.0 L109.4,319.0 L109.8,320.8 L110.2,322.9 L110.6,324.9 L111.0,326.0 L111.3,326.8 L111.7,332.5 L112.1,334.6 L112.4,336.0 L112.8,340.8 L113.2,343.8 L113.6,346.0 L113.9,347.0 L114.3,348.4 L114.7,348.7 L115.0,351.6 L115.5,346.3 L116.0,340.0 L116.4,336.3 L116.8,334.4 L117.2,332.9 L117.6,330.7 L118.0,330.0 L118.4,329.8 L118.8,329.1 L119.2,329.3 L119.6,330.3 L120.0,332.0 L120.3,329.3 L120.7,329.2 L121.0,326.8 L121.4,328.9 L121.7,326.7 L122.1,323.8 L122.4,324.0 L122.8,324.6 L123.1,326.6 L123.5,328.2 L123.9,328.9 L124.3,333.2 L124.6,335.3 L125.0,335.0 L125.4,332.0 L125.7,329.2 L126.1,324.9 L126.5,322.1 L126.9,320.1 L127.2,317.0 L127.6,315.0 L127.9,318.2 L128.3,317.7 L128.7,319.2 L129.0,323.0 L129.4,323.6 L129.8,320.9 L130.1,318.3 L130.5,318.7 L130.9,315.6 L131.2,316.4 L131.6,316.9 L132.0,314.0 L132.4,317.4 L132.8,318.7 L133.2,319.1 L133.6,321.5 L134.0,324.0 L134.3,321.2 L134.7,321.9 L135.0,319.4 L135.4,318.8 L135.7,315.5 L136.1,313.5 L136.4,313.0 L136.8,315.9 L137.2,318.3 L137.6,319.6 L138.0,320.0 L138.4,319.7 L138.8,318.2 L139.1,316.4 L139.5,313.0 L139.9,312.6 L140.2,310.5 L140.6,307.7 L141.0,308.0 L141.4,305.2 L141.8,305.2 L142.1,304.1 L142.5,304.7 L142.9,304.7 L143.2,301.8 L143.6,302.7 L144.0,300.0 L144.4,300.9 L144.8,299.7 L145.1,296.5 L145.5,294.9 L145.9,294.0 L146.2,292.8 L146.6,291.9 L147.0,292.0 L147.4,291.1 L147.8,290.7 L148.2,289.1 L148.6,286.3 L149.0,285.0 L149.3,288.8 L149.7,292.6 L150.1,293.2 L150.4,298.0 L150.8,299.8 L151.1,301.8 L151.5,302.5 L151.9,303.5 L152.3,303.6 L152.6,303.6 L153.0,306.0 L153.4,304.3 L153.8,299.9 L154.1,298.9 L154.5,296.8 L154.9,291.9 L155.2,289.1 L155.6,288.4 L156.0,284.0 L156.4,282.9 L156.8,278.7 L157.2,276.6 L157.6,276.0 L157.9,273.9 L158.3,276.0 L158.7,274.9 L159.0,273.0 L159.3,273.4 L159.7,277.7 L160.1,280.1 L160.4,280.0 L160.8,277.7 L161.1,273.7 L161.5,271.6 L161.9,267.2 L162.3,263.9 L162.6,264.6 L163.0,260.0 L163.4,258.2 L163.8,255.3 L164.2,254.4 L164.6,250.1 L165.0,248.0 L165.3,247.2 L165.7,244.7 L166.1,240.2 L166.4,239.0 L166.8,240.4 L167.2,242.9 L167.6,246.0 L168.0,242.4 L168.4,241.1 L168.8,237.3 L169.2,235.6 L169.6,242.5 L170.0,250.0 L170.4,251.1 L170.8,256.6 L171.2,256.9 L171.6,260.0 L171.9,256.3 L172.3,253.3 L172.7,251.0 L173.0,246.0 L173.3,245.2 L173.7,246.6 L174.1,244.5 L174.4,244.0 L174.8,241.5 L175.2,238.9 L175.6,234.4 L176.0,233.4 L176.4,231.0 L176.8,233.5 L177.2,236.6 L177.6,243.4 L178.0,246.0 L178.4,247.8 L178.8,251.9 L179.2,255.9 L179.6,258.2 L180.0,261.0 L180.4,257.6 L180.8,255.6 L181.2,253.0 L181.6,250.0 L182.0,262.0 L182.4,259.1 L182.8,252.5 L183.2,250.2 L183.6,245.0 L184.0,242.0 L184.4,238.2 L184.8,237.0 L185.2,233.0 L185.6,230.0 L185.9,229.2 L186.3,229.0 L186.7,228.6 L187.0,226.0 L187.4,222.0 L187.8,218.8 L188.2,214.6 L188.6,210.8 L189.0,207.0 L189.4,211.9 L189.8,215.2 L190.2,219.7 L190.6,223.7 L191.0,228.0 L191.3,225.7 L191.7,220.8 L192.1,217.4 L192.4,212.0 L192.8,211.7 L193.2,207.1 L193.6,206.2 L194.0,205.7 L194.4,202.0 L194.8,200.5 L195.2,195.0 L195.6,192.2 L196.0,190.6 L196.4,188.0 L196.8,180.4 L197.2,175.0 L197.6,170.0 L198.0,166.4 L198.4,166.0 L199.0,160.0 L199.5,155.6 L200.0,150.0 L200.5,154.1 L201.0,156.0 L201.5,167.5 L202.0,176.0 L202.5,155.2 L203.0,137.0 L203.3,140.6 L203.7,143.1 L204.1,143.9 L204.4,148.0 L204.8,146.8 L205.2,144.4 L205.6,140.0 L206.1,143.9 L206.6,150.0 L206.9,144.3 L207.3,134.8 L207.7,127.8 L208.0,120.4 L208.5,122.6 L209.0,121.0 L209.6,132.0 L210.0,142.3 L210.4,150.0 L210.8,154.0 L211.2,160.4 L211.6,166.0 L212.0,171.1 L212.4,176.0 L212.8,176.7 L213.2,177.5 L213.6,180.0 L213.9,184.1 L214.3,190.3 L214.7,192.4 L215.0,199.0 L215.4,197.8 L215.8,196.0 L216.2,193.0 L216.6,192.8 L217.0,192.0 L217.4,195.3 L217.8,197.6 L218.2,198.7 L218.6,205.0 L219.0,206.0 L219.3,210.6 L219.7,214.8 L220.1,215.0 L220.4,220.0 L221.0,252.0 L221.5,229.6 L222.0,209.0 L222.5,217.8 L223.0,230.0 L223.5,241.1 L224.0,250.0 L224.3,254.1 L224.7,258.6 L225.1,264.7 L225.4,270.0 L225.9,287.6 L226.4,296.6 L226.9,302.4 L227.2,308.7 L227.6,312.6 L228.0,315.4 L228.4,320.0 L228.9,310.6 L229.4,303.8 L229.9,325.9 L230.2,330.0 L230.6,331.2 L231.0,334.2 L231.3,336.0 L231.7,338.9 L232.0,343.3 L232.3,350.2 L232.7,354.0 L233.1,351.7 L233.6,350.0 L233.9,354.3 L234.3,363.4 L234.7,368.1 L235.0,373.5 L235.4,366.7 L235.9,357.6 L236.3,360.6 L236.6,368.0 L237.0,369.6 L237.4,377.1 L237.8,380.1 L238.1,384.2 L238.5,389.4 L238.9,382.9 L239.2,377.7 L239.6,368.5 L239.9,361.3 L240.3,356.0 L240.7,364.0 L241.2,370.8 L241.6,378.2 L242.0,387.6 L242.4,381.4 L242.7,376.1 L243.1,371.7 L243.4,367.2 L243.8,363.0 L244.2,366.3 L244.6,372.0 L245.0,375.0 L245.3,376.6 L245.7,379.9 L246.0,381.1 L246.4,384.1 L246.7,385.3 L247.1,388.6 L247.4,392.0 L247.8,385.2 L248.2,382.0 L248.6,384.9 L249.1,386.2 L249.5,388.0 L250.0,377.8 L250.5,370.0 L250.9,367.4 L251.2,366.7 L251.6,361.0 L252.0,360.0 L252.3,359.1 L252.7,355.5 L253.0,353.6 L253.4,352.7 L253.7,348.9 L254.1,347.2 L254.4,345.0 L254.8,347.1 L255.1,349.6 L255.5,348.6 L255.8,351.9 L256.2,352.0 L256.6,350.3 L257.0,347.0 L257.4,350.7 L257.7,353.0 L258.1,356.0 L258.4,358.1 L258.8,363.0 L259.1,358.5 L259.5,355.2 L259.9,354.6 L260.2,350.6 L260.6,345.8 L261.1,341.6 L261.5,339.0 L261.9,335.6 L262.2,336.7 L262.5,335.0 L262.9,331.8 L263.3,330.4 L263.6,326.9 L264.0,324.6 L264.3,322.8 L264.7,321.5 L265.1,318.6 L265.5,314.8 L265.8,313.2 L266.2,309.8 L266.6,308.0 L267.0,307.8 L267.3,305.8 L267.7,302.2 L268.0,299.0 L268.4,298.0 L268.8,302.1 L269.2,301.9 L269.6,305.0 L270.0,302.8 L270.3,301.6 L270.7,302.1 L271.1,305.9 L271.4,308.6 L271.8,311.0 L272.2,315.5 L272.6,318.8 L273.1,324.4 L273.5,328.8 L273.9,324.0 L274.3,322.0 L274.6,318.4 L275.0,316.6 L275.4,314.0 L275.8,310.3 L276.1,308.2 L276.5,308.0 L276.9,305.3 L277.2,303.0 L277.5,302.3 L277.9,300.0 L278.3,302.9 L278.6,306.5 L279.0,308.8 L279.4,311.0 L279.8,308.4 L280.2,305.6 L280.5,300.4 L280.9,296.7 L281.3,294.0 L281.7,299.8 L282.1,300.5 L282.4,306.6 L282.8,309.7 L283.2,308.8 L283.6,305.1 L283.9,306.7 L284.3,304.0 L284.8,302.8 L285.3,298.7 L285.7,303.0 L286.1,307.2 L286.4,311.4 L286.8,314.0 L287.2,309.0 L287.5,306.8 L287.9,303.0 L288.3,303.7 L288.7,305.6 L289.1,305.0 L289.6,299.7 L290.1,292.0 L290.5,288.1 L290.9,282.1 L291.3,276.6 L291.7,280.8 L292.2,282.7 L292.6,284.7 L293.0,284.2 L293.4,281.1 L293.7,279.1 L294.1,279.6 L294.5,280.3 L294.9,283.3 L295.3,286.0 L295.7,283.4 L296.1,285.2 L296.4,283.1 L296.8,281.8 L297.1,284.1 L297.5,285.9 L297.9,287.9 L298.2,289.0 L298.6,286.8 L299.0,284.7 L299.4,287.9 L299.9,296.0 L300.3,300.9 L300.7,305.0 L301.1,301.3 L301.4,297.6 L301.8,294.4 L302.2,290.0 L302.6,285.5 L302.9,285.1 L303.3,280.4 L303.7,278.5 L304.1,275.4 L304.4,274.6 L304.8,274.8 L305.1,272.4 L305.5,273.6 L305.9,277.9 L306.2,281.0 L306.6,281.5 L307.0,283.3 L307.4,284.7 L307.7,286.9 L308.1,288.8 L308.5,292.4 L308.8,294.7 L309.2,292.1 L309.6,287.4 L310.0,290.7 L310.3,293.7 L310.6,294.5 L311.0,299.0 L311.4,294.0 L311.8,290.8 L312.1,289.0 L312.5,284.4 L313.0,281.5 L313.5,280.0 L313.9,279.8 L314.3,277.1 L314.7,278.5 L315.1,276.1 L315.4,276.2 L315.8,277.0 L316.2,275.6 L316.6,275.6 L317.0,274.8 L317.4,273.4 L317.9,275.6 L318.4,279.3 L318.8,276.2 L319.2,272.8 L319.5,269.7 L319.9,265.2 L320.3,263.5 L320.7,267.1 L321.0,266.6 L321.4,271.7 L321.7,273.6 L322.1,274.1 L322.5,270.4 L322.9,270.1 L323.2,269.6 L323.6,268.3 L324.0,264.6 L324.4,270.0 L324.9,275.0 L325.3,281.5 L325.7,283.8 L326.1,290.1 L326.5,291.8 L326.9,292.5 L327.2,295.7 L327.5,295.8 L327.9,299.0 L328.3,297.6 L328.6,297.8 L329.0,293.3 L329.4,293.2 L329.8,294.8 L330.1,294.0 L330.5,295.8 L330.9,294.7 L331.3,293.3 L331.6,289.3 L332.0,289.6 L332.4,285.9 L332.7,285.3 L333.1,282.9 L333.4,282.3 L333.8,283.5 L334.1,283.0 L334.5,285.7 L334.9,288.1 L335.3,291.8 L335.7,289.3 L336.1,289.0 L336.4,287.8 L336.8,287.4 L337.2,287.4 L337.6,282.9 L338.1,284.5 L338.5,282.2 L338.9,284.2 L339.3,282.2 L339.7,284.4 L340.1,282.4 L340.5,277.9 L340.9,273.4 L341.3,277.3 L341.6,277.4 L342.0,280.1 L342.4,283.0 L342.9,286.2 L343.4,290.3 L343.8,293.3 L344.1,292.8 L344.5,293.1 L344.9,294.7 L345.2,293.7 L345.6,292.4 L345.9,290.8 L346.3,291.8 L346.7,288.8 L347.0,290.1 L347.4,287.4 L347.8,288.1 L348.1,292.0 L348.5,291.8 L348.9,289.4 L349.2,288.0 L349.6,287.4 L350.0,285.9 L350.4,282.1 L350.7,280.1 L351.1,279.7 L351.4,276.7 L351.8,272.6 L352.1,274.2 L352.5,273.8 L352.9,275.3 L353.2,274.1 L353.6,274.3 L354.1,271.2 L354.6,275.0 L355.1,278.5 L355.5,277.1 L355.9,272.4 L356.2,272.8 L356.6,269.7 L357.0,267.8 L357.3,267.1 L357.7,265.0 L358.0,261.8 L358.4,260.9 L358.8,263.2 L359.1,270.6 L359.5,271.6 L359.9,277.1 L360.3,273.6 L360.6,269.6 L361.0,266.8 L361.4,263.6 L361.8,262.9 L362.1,261.4 L362.5,257.2 L362.9,256.8 L363.2,258.9 L363.6,258.1 L364.0,259.4 L364.4,258.4 L364.7,256.6 L365.1,254.5 L365.5,253.2 L365.8,252.2 L366.2,252.1 L366.6,254.1 L367.0,253.0 L367.4,253.5 L367.8,253.9 L368.1,258.0 L368.4,259.8 L368.8,259.4 L369.2,256.8 L369.6,253.3 L369.9,251.1 L370.3,249.9 L370.7,253.5 L371.2,259.6 L371.6,265.3 L372.0,258.8 L372.4,254.5 L372.8,250.6 L373.2,253.6 L373.6,258.7 L374.0,262.4 L374.4,266.1 L374.9,267.7 L375.3,269.0 L375.8,260.2 L376.2,252.1 L376.8,235.9 L377.2,232.0 L377.6,228.8 L377.9,224.6 L378.3,220.9 L378.7,217.9 L379.2,221.4 L379.7,228.2 L380.2,236.0 L380.8,224.0 L381.2,220.9 L381.5,221.2 L381.9,217.2 L382.3,217.7 L382.7,221.0 L383.1,217.0 L383.4,213.6 L383.8,209.1 L384.2,205.9 L384.6,200.0 L385.0,203.4 L385.5,208.1 L385.9,213.5 L386.3,208.6 L386.6,205.3 L387.0,201.8 L387.4,200.4 L387.8,201.1 L388.1,199.5 L388.5,197.0 L388.9,203.7 L389.3,207.6 L389.6,213.9 L390.0,223.8 L390.4,229.4 L390.7,238.5 L391.1,234.9 L391.5,229.7 L391.9,234.2 L392.2,235.6 L392.6,232.9 L392.9,230.8 L393.3,226.0 L393.7,225.3 L394.1,226.0 L394.4,229.1 L394.8,229.8 L395.1,229.7 L395.5,229.6 L395.9,226.8 L396.2,234.4 L396.6,238.5 L397.0,239.8 L397.4,241.5 L397.7,243.9 L398.1,247.4 L398.5,253.4 L398.9,248.0 L399.4,242.4 L399.9,241.9 L400.3,240.0 L400.7,239.7 L401.1,236.9 L401.5,234.1 L402.1,240.0 L402.5,238.4 L402.8,236.6 L403.1,233.2 L403.5,231.2 L403.9,235.1 L404.2,236.9 L404.6,242.4 L405.1,250.8 L405.6,257.0 L406.2,281.3 L406.6,270.4 L407.1,261.5 L407.5,268.9 L407.9,273.2 L408.3,269.4 L408.6,263.7 L409.0,260.0 L409.4,262.0 L409.7,265.9 L410.1,270.3 L410.5,266.9 L410.8,263.2 L411.2,258.5 L411.6,256.1 L411.9,255.1 L412.2,255.9 L412.6,254.9 L413.0,258.4 L413.4,260.8 L413.8,264.4 L414.2,268.2 L414.5,274.6 L414.9,279.1 L415.3,280.9 L415.6,285.7 L416.0,290.1 L416.6,273.2 L417.0,270.2 L417.4,267.4 L417.8,267.2 L418.1,264.0 L418.5,261.5 L418.9,258.3 L419.3,252.0 L419.7,247.4 L420.1,245.4 L420.5,244.4 L420.9,244.4 L421.3,244.0 L421.6,240.8 L422.0,237.1 L422.4,235.6 L422.8,231.2 L423.1,230.4 L423.4,228.5 L423.8,225.3 L424.2,229.4 L424.6,233.2 L425.0,238.5 L425.5,234.7 L426.0,229.7 L426.4,231.1 L426.7,228.2 L427.1,229.0 L427.5,229.8 L427.9,234.1 L428.3,236.9 L428.6,240.7 L429.0,244.4 L429.4,241.4 L429.7,235.9 L430.0,234.5 L430.4,229.7 L430.8,229.5 L431.2,227.5 L431.6,225.2 L432.0,227.0 L432.4,224.1 L432.9,226.2 L433.4,229.7 L433.8,230.7 L434.1,228.2 L434.5,229.0 L434.9,229.1 L435.2,232.4 L435.6,232.6 L436.0,231.3 L436.4,233.3 L436.8,231.0 L437.3,234.7 L437.8,238.5 L438.2,235.1 L438.6,233.0 L438.9,231.6 L439.3,229.7 L439.8,224.4 L440.3,217.9 L440.7,216.2 L441.1,209.7 L441.5,207.6 L441.9,209.0 L442.2,210.2 L442.5,215.0 L442.9,215.0 L443.3,212.9 L443.7,211.8 L444.1,212.8 L444.7,219.4 L445.1,214.8 L445.6,213.5 L446.1,216.8 L446.6,220.9 L447.0,224.1 L447.4,225.7 L447.7,226.7 L448.1,227.5 L448.6,226.4 L449.1,221.6 L449.5,224.5 L449.9,223.4 L450.3,225.3 L450.8,221.2 L451.3,219.4 L451.7,220.1 L452.1,218.4 L452.5,216.5 L452.9,222.8 L453.2,232.6 L453.6,236.2 L454.0,238.1 L454.4,241.5 L454.9,244.7 L455.4,248.8 L455.8,249.9 L456.1,251.1 L456.5,254.1 L457.0,257.4 L457.5,264.4 L457.9,266.5 L458.2,270.3 L458.6,270.1 L458.9,272.8 L459.3,270.0 L459.7,271.8 L460.1,274.5 L460.5,272.6 L460.9,274.7 L461.5,283.5 L461.9,283.7 L462.4,285.0 L462.9,270.3 L463.3,267.1 L463.7,261.5 L464.0,266.4 L464.4,268.8 L464.8,264.6 L465.2,259.2 L465.6,257.0 L466.1,252.9 L466.6,249.0 L467.0,252.7 L467.4,258.9 L467.8,261.5 L468.2,257.4 L468.6,255.1 L468.9,254.2 L469.3,249.7 L469.6,246.4 L470.0,246.4 L470.4,246.5 L470.7,243.8 L471.1,243.2 L471.4,238.9 L471.8,237.3 L472.1,237.5 L472.6,238.4 L473.1,242.6 L473.5,243.1 L473.9,239.5 L474.2,240.2 L474.6,238.2 L475.1,240.4 L475.6,239.5 L476.1,235.7 L476.5,233.1 L477.1,242.6 L477.5,245.4 L477.9,250.0 L478.3,253.2 L478.6,253.4 L479.0,254.4 L479.4,251.3 L479.7,250.0 L480.1,250.8 L480.4,249.3 L480.8,249.1 L481.1,248.1 L481.5,250.0 L481.9,255.4 L482.4,258.8 L482.9,262.6 L483.4,263.2 L483.8,264.8 L484.1,267.1 L484.5,264.7 L484.9,267.6 L485.2,267.0 L485.6,268.4 L486.0,266.5 L486.3,264.7 L486.7,264.0 L487.0,261.6 L487.4,257.4 L487.8,259.9 L488.2,263.2 L488.6,260.1 L488.9,258.5 L489.3,256.6 L489.8,259.2 L490.3,261.8 L490.7,264.6 L491.1,263.0 L491.5,265.4 L491.9,264.5 L492.2,262.3 L492.5,260.6 L492.9,257.4 L493.3,257.0 L493.6,254.9 L494.0,252.3 L494.4,251.5 L494.8,249.7 L495.1,248.8 L495.5,249.3 L495.9,247.1 L496.3,244.8 L496.6,244.4 L497.0,245.8 L497.4,244.1 L497.8,242.0 L498.1,240.2 L498.4,239.0 L498.8,239.7 L499.2,238.8 L499.6,236.8 L499.9,238.2 L500.3,235.3 L500.7,237.9 L501.1,239.4 L501.4,237.7 L501.8,239.7 L502.2,236.7 L502.5,235.2 L502.9,235.3 L503.3,236.8 L503.6,239.0 L504.0,239.7 L504.5,243.2 L505.0,247.1 L505.4,248.5 L505.8,251.7 L506.2,254.4 L506.6,253.4 L506.9,252.1 L507.2,250.9 L507.6,248.5 L508.0,249.1 L508.4,247.7 L508.7,244.9 L509.1,245.6 L509.5,244.9 L509.9,240.8 L510.2,239.8 L510.6,237.5 L511.0,239.2 L511.4,242.8 L511.8,244.1 L512.3,242.7 L512.8,243.5 L513.2,247.1 L513.5,251.7 L513.9,255.9 L514.3,261.8 L514.6,259.2 L515.0,254.0 L515.4,249.0 L515.7,245.6 L516.1,243.9 L516.5,244.8 L516.8,241.7 L517.2,239.3 L517.6,239.0 L518.0,241.4 L518.3,242.0 L518.7,242.6 L519.2,242.4 L519.7,238.5 L520.1,238.9 L520.5,242.1 L520.9,244.1 L521.3,247.5 L521.7,249.8 L522.1,250.7 L522.6,248.2 L523.1,242.6 L523.5,238.7 L523.9,237.4 L524.2,234.6 L524.6,233.8 L525.1,237.8 L525.6,244.1 L526.0,243.5 L526.4,239.5 L526.8,236.8 L527.2,234.5 L527.5,228.4 L527.9,225.0 L528.3,224.4 L528.6,220.9 L529.0,219.1 L529.4,216.3 L529.7,216.4 L530.0,215.1 L530.4,211.5 L530.8,212.5 L531.1,216.9 L531.5,219.1 L532.0,216.6 L532.4,213.2 L532.8,214.7 L533.1,217.9 L533.4,219.6 L533.8,223.5 L534.2,220.0 L534.5,217.8 L534.9,216.8 L535.3,214.0 L535.8,217.9 L536.3,220.6 L536.7,215.1 L537.1,209.9 L537.5,207.4 L538.0,210.0 L538.5,214.0 L538.9,212.1 L539.3,208.8 L539.8,210.6 L540.3,214.7 L540.8,213.4 L541.2,213.5 L541.6,215.4 L542.0,220.6 L542.4,222.5 L542.8,222.8 L543.2,221.1 L543.6,221.4 L544.0,223.0 L544.4,223.7 L544.8,225.3 L545.1,226.7 L545.5,227.2 L546.0,225.3 L546.5,226.5 L547.0,228.9 L547.4,233.8 L547.8,236.5 L548.2,237.4 L548.6,239.7 L549.0,240.5 L549.3,242.1 L549.6,246.1 L550.0,246.0 L550.4,244.2 L550.8,244.0 L551.2,242.6 L551.6,242.3 L551.9,242.7 L552.2,244.7 L552.6,243.5 L553.0,247.3 L553.5,246.8 L553.9,249.3 L554.4,243.0 L554.9,239.0 L555.3,238.4 L555.8,234.9 L556.2,234.6 L556.6,233.5 L557.0,237.6 L557.4,236.8 L557.8,234.9 L558.1,234.8 L558.5,231.6 L558.9,230.4 L559.4,236.5 L559.9,239.7 L560.4,242.5 L560.9,245.6 L561.3,245.8 L561.6,246.7 L562.0,250.0 L562.4,247.6 L562.7,245.4 L563.0,243.8 L563.4,239.7 L563.8,237.2 L564.2,238.3 L564.6,236.4 L565.0,236.0 L565.4,236.3 L565.8,235.2 L566.2,236.8 L566.7,233.4 L567.2,231.6 L567.6,229.9 L568.0,229.6 L568.3,224.6 L568.7,224.3 L569.1,225.4 L569.5,226.5 L569.9,228.4 L570.2,229.7 L570.6,228.7 L571.1,231.6 L571.6,236.8 L572.1,232.8 L572.6,231.6 L573.0,232.1 L573.4,230.9 L573.8,227.9 L574.2,228.5 L574.6,227.6 L575.0,230.0 L575.5,229.9 L576.0,226.5 L576.4,225.3 L576.8,226.6 L577.1,224.7 L577.5,224.8 L577.9,222.8 L578.3,223.2 L578.6,227.3 L579.0,227.9 L579.4,228.1 L579.7,230.1 L580.0,233.1 L580.4,233.1 L580.8,233.3 L581.1,229.7 L581.5,228.7 L581.9,228.7 L582.3,226.7 L582.7,225.5 L583.0,223.4 L583.4,220.8 L583.8,220.6 L584.2,220.9 L584.5,223.9 L584.9,224.3 L585.2,226.2 L585.6,223.3 L585.9,225.6 L586.3,225.7 L586.7,223.7 L587.0,218.1 L587.4,216.9 L587.8,217.8 L588.2,214.7 L588.5,216.1 L588.9,215.6 L589.3,215.0 L589.6,216.5 L590.0,216.3 L590.4,217.8 L590.7,219.1 L591.1,221.4 L591.4,222.8 L591.8,225.0 L592.2,227.6 L592.5,228.7 L592.9,230.9 L593.3,229.0 L593.6,225.8 L594.0,226.4 L594.4,224.3 L594.8,226.0 L595.2,226.7 L595.6,229.4 L596.1,234.1 L596.6,236.8 L597.0,238.4 L597.4,237.7 L597.7,237.2 L598.1,239.0 L598.5,241.4 L598.8,244.1 L599.2,243.8 L599.6,245.2 L600.0,247.8 L600.4,245.9 L600.8,242.9 L601.1,242.6 L601.5,241.2 L602.0,243.4 L602.5,245.6 L603.0,247.2 L603.5,252.2 L603.9,251.0 L604.3,247.2 L604.7,247.1 L605.0,250.5 L605.4,252.2 L605.8,250.6 L606.1,246.8 L606.5,244.1 L606.9,251.5 L607.2,251.6 L607.6,255.0 L608.0,258.9 L608.3,262.4 L608.7,266.8 L609.2,272.2 L609.7,274.1 L610.1,278.5 L610.5,275.9 L610.8,277.5 L611.2,274.9 L611.6,277.8 L612.0,277.0 L612.6,283.0 L613.0,285.1 L613.4,286.6 L613.8,286.6 L614.2,287.9 L614.6,293.4 L615.0,294.0 L615.5,291.0 L616.0,288.1 L616.4,293.1 L616.8,294.7 L617.1,302.2 L617.5,306.5 L618.0,315.0" fill="none" stroke="#3370aa" stroke-width="1.5" stroke-linejoin="round"/>
<g>
<text x="45.5" y="113" text-anchor="end">150</text>
<text x="45.5" y="173" text-anchor="end">125</text>
<text x="45.5" y="234" text-anchor="end">100</text>
<text x="45.5" y="296" text-anchor="end">75</text>
<text x="45.5" y="356" text-anchor="end">50</text>
<text x="45.5" y="417" text-anchor="end">25</text>
<text x="143.5" y="438" text-anchor="middle">07</text>
<text x="207" y="438" text-anchor="middle">08</text>
<text x="271.5" y="438" text-anchor="middle">09</text>
<text x="335.5" y="438" text-anchor="middle">10</text>
<text x="399.5" y="438" text-anchor="middle">11</text>
<text x="463.5" y="438" text-anchor="middle">12</text>
<text x="527.5" y="438" text-anchor="middle">13</text>
</g>
<g fill="#ff0000" stroke="none">
<path d="M215.6,126.5 L256,393" stroke="#ff0000" stroke-width="8" stroke-linecap="round" fill="none"/>
<path d="M211.2,124.6 L233.6,98 L232,106.8 L300.9,88.8 Q303,90 301.8,91.8 L236.6,119.4 L243.8,126.8 L219,123.2 Z"/>
<path d="M254.5,393.5 L277.9,380.2 L274.7,387.3 L325.6,397.8 Q327.8,399.4 326.4,401 L273,402 L274.4,408.6 L258,397 Z"/>
</g>
</svg>
</body>
</html>
